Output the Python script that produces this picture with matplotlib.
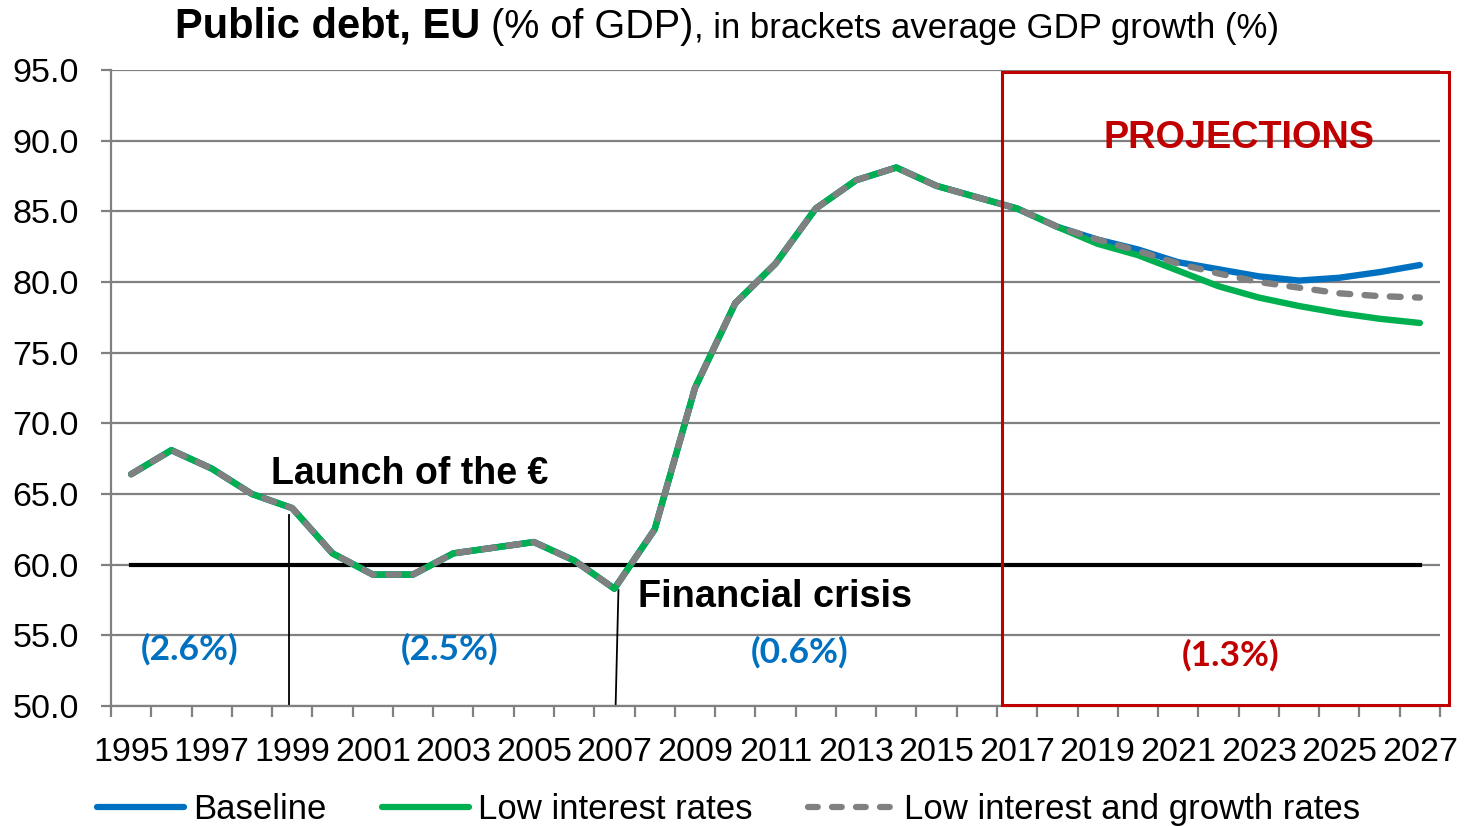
import matplotlib
matplotlib.use("Agg")
import matplotlib.pyplot as plt
from matplotlib.patches import Rectangle
from matplotlib.lines import Line2D

plt.rcParams['font.family'] = ['Liberation Sans', 'DejaVu Sans']

# ---------------- data ----------------
years = list(range(1995, 2028))
history = [66.4, 68.1, 66.8, 65.0, 64.0, 60.8, 59.3, 59.3, 60.8, 61.2,
           61.6, 60.3, 58.3, 62.5, 72.5, 78.5, 81.3, 85.2, 87.2, 88.1,
           86.8, 86.0, 85.2]                      # 1995-2017
proj_years = list(range(2017, 2028))
baseline = [85.2, 83.9, 83.0, 82.3, 81.4, 80.9, 80.4, 80.1, 80.3, 80.7, 81.2]
low_interest = [85.2, 83.9, 82.7, 81.9, 80.8, 79.7, 78.9, 78.3, 77.8, 77.4, 77.1]
low_int_growth = [85.2, 83.9, 83.0, 82.2, 81.3, 80.6, 80.0, 79.6, 79.2, 79.0, 78.9]

series_names = ["Baseline", "Low interest rates", "Low interest and growth rates"]
tick_years = list(range(1995, 2028, 2))
y_ticks = [50, 55, 60, 65, 70, 75, 80, 85, 90, 95]
threshold = 60.0
events = [("Launch of the €", 1999), ("Financial crisis", 2007)]
growth_labels = ["(2.6%)", "(2.5%)", "(0.6%)", "(1.3%)"]
growth_pos = [1996.45, 2002.9, 2011.6, 2022.3]
growth_y = [54.0, 54.0, 53.8, 53.6]

BLUE = "#0070C0"
GREEN = "#00B050"
GREY = "#808080"
RED = "#C00000"

full_base = history[:-1] + baseline
full_low = history[:-1] + low_interest
full_lig = history[:-1] + low_int_growth

# ---------------- figure ----------------
fig = plt.figure(figsize=(14.66, 8.26), dpi=100)
ax = fig.add_axes([111/1466, 1-706/826, (1440-111)/1466, (706-70)/826])

ax.set_xlim(1994.5, 2027.5)
ax.set_ylim(50, 95)

# grid
for yv in y_ticks:
    ax.axhline(yv, color=GREY, lw=1.6, zorder=1)

LW = 4.6
ax.plot(years, full_base, color=BLUE, lw=LW, solid_capstyle='round',
        solid_joinstyle='round', zorder=3)
ax.plot(years, full_low, color=GREEN, lw=LW, solid_capstyle='round',
        solid_joinstyle='round', zorder=4)
ax.plot(years, full_lig, color=GREY, lw=LW, dashes=(1.7, 2.25),
        dash_capstyle='round', zorder=5)

# 60% threshold
ax.plot([years[0], years[-1]], [threshold, threshold], color='black', lw=3.0, zorder=2)

# event lines
ev_tops = [63.5, 58.2]
ev_x = [[1998.93, 1998.93], [2007.1, 2007.03]]
for (label, yr), top, xs in zip(events, ev_tops, ev_x):
    ax.plot(xs, [top, 50], color='black', lw=1.3, zorder=2, clip_on=False)

ax.text(1998.47, 65.7, events[0][0], fontsize=27, fontweight='bold',
        ha='left', va='baseline', zorder=6)
ax.text(2007.58, 57.0, events[1][0], fontsize=27.3, fontweight='bold',
        ha='left', va='baseline', zorder=6)

# projections box
ax.add_patch(Rectangle((2016.62, 50.1), 2027.73-2016.62, 94.85-50.1,
                       fill=False, edgecolor=RED, lw=2.2, clip_on=False, zorder=6))
ax.text(2022.5, 89.5, "PROJECTIONS", color=RED, fontsize=27.3, fontweight='bold',
        ha='center', va='baseline', zorder=6)

# growth labels
for lab, xp, yp in zip(growth_labels, growth_pos, growth_y):
    col = RED if lab == growth_labels[-1] else BLUE
    ax.text(xp, yp, lab, color=col, fontsize=25.5, fontweight='bold',
            family=['Lato', 'DejaVu Sans'], ha='center', va='center', zorder=6)

# axes styling
for s in ['top', 'right']:
    ax.spines[s].set_visible(False)
for s in ['left', 'bottom']:
    ax.spines[s].set_color(GREY)
    ax.spines[s].set_linewidth(1.6)

ax.set_yticks(y_ticks)
ax.set_yticklabels([f"{v:.1f}" for v in y_ticks])
ax.tick_params(axis='y', length=7, width=1.6, color=GREY, labelsize=24.5, pad=16)

ax.set_xticks(tick_years)
ax.set_xticklabels([str(y) for y in tick_years])
ax.set_xticks([y + 0.5 for y in range(1994, 2028)], minor=True)
ax.tick_params(axis='x', which='major', length=0, labelsize=24.5, pad=22)
ax.tick_params(axis='x', which='minor', length=8, width=1.6, color=GREY)

# legend
handles = [Line2D([], [], color=BLUE, lw=4.5, solid_capstyle='round'),
           Line2D([], [], color=GREEN, lw=4.5, solid_capstyle='round'),
           Line2D([], [], color=GREY, lw=4.5, dashes=(1.56, 2.28), dash_capstyle='round')]
fig.legend(handles, series_names, loc='center', bbox_to_anchor=(0.497, 0.02),
           ncol=3, frameon=False, fontsize=25, handlelength=2.5,
           handletextpad=0.28, columnspacing=1.58)

# title composed of pieces
fig.canvas.draw()
r = fig.canvas.get_renderer()
pieces = [("Public debt, EU", 30, 'bold'), (" (% of GDP)", 28.5, 'normal'),
          (", in brackets average GDP growth (%)", 25, 'normal')]
x0 = 175 / 1466
ybase = 1 - 38 / 826
for s, fs, fw in pieces:
    t = fig.text(x0, ybase, s, fontsize=fs, fontweight=fw, ha='left', va='baseline')
    bb = t.get_window_extent(renderer=r)
    x0 += bb.width / 1466

fig.savefig("out.png", dpi=100)
